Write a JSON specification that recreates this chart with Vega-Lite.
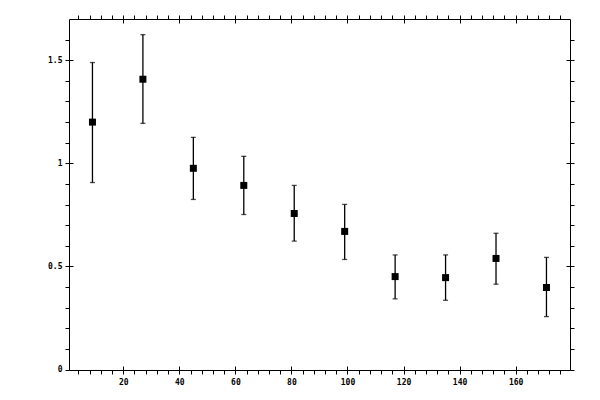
{
  "$schema": "https://vega.github.io/schema/vega-lite/v6.json",
  "description": "Points with error bars, framed axes with inner and outer ticks",
  "autosize": "none",
  "padding": {"left": 69, "top": 19, "right": 29, "bottom": 30},
  "width": 501,
  "height": 351,
  "background": "white",
  "data": {
    "values": [
      {"x": 9, "y": 1.2, "lo": 0.907, "hi": 1.489},
      {"x": 27, "y": 1.408, "lo": 1.194, "hi": 1.624},
      {"x": 45, "y": 0.976, "lo": 0.825, "hi": 1.126},
      {"x": 63, "y": 0.893, "lo": 0.752, "hi": 1.034},
      {"x": 81, "y": 0.757, "lo": 0.623, "hi": 0.893},
      {"x": 99, "y": 0.67, "lo": 0.534, "hi": 0.801},
      {"x": 117, "y": 0.451, "lo": 0.343, "hi": 0.556},
      {"x": 135, "y": 0.446, "lo": 0.336, "hi": 0.556},
      {"x": 153, "y": 0.539, "lo": 0.414, "hi": 0.661},
      {"x": 171, "y": 0.398, "lo": 0.257, "hi": 0.544}
    ]
  },
  "resolve": {"axis": {"x": "independent", "y": "independent"}},
  "layer": [
    {
      "mark": {"type": "rule", "color": "black", "strokeWidth": 1.3},
      "encoding": {
        "x": {
          "field": "x", "type": "quantitative",
          "scale": {"domain": [0.63, 179.4], "nice": false, "zero": false},
          "axis": {
            "orient": "bottom",
            "values": [4, 8, 12, 16, 20, 24, 28, 32, 36, 40, 44, 48, 52, 56, 60, 64, 68, 72, 76, 80, 84, 88, 92, 96, 100, 104, 108, 112, 116, 120, 124, 128, 132, 136, 140, 144, 148, 152, 156, 160, 164, 168, 172, 176],
            "tickSize": 4,
            "labelPadding": 4,
            "labelOverlap": false,
            "labelExpr": "datum.value % 20 === 0 ? datum.label : ''"
          }
        },
        "y": {
          "field": "lo", "type": "quantitative",
          "scale": {"domain": [-0.002, 1.7], "nice": false, "zero": false},
          "axis": {
            "orient": "left",
            "values": [0, 0.1, 0.2, 0.3, 0.4, 0.5, 0.6, 0.7, 0.8, 0.9, 1, 1.1, 1.2, 1.3, 1.4, 1.5, 1.6],
            "tickSize": 4,
            "labelPadding": 3,
            "labelOverlap": false,
            "labelExpr": "datum.value == 0 ? '0' : datum.value == 0.5 ? '0.5' : datum.value == 1 ? '1' : datum.value == 1.5 ? '1.5' : ''"
          }
        },
        "y2": {"field": "hi"}
      }
    },
    {
      "mark": {"type": "tick", "color": "black", "orient": "horizontal", "size": 5, "thickness": 1.3},
      "encoding": {
        "x": {
          "field": "x", "type": "quantitative",
          "axis": {"orient": "bottom", "values": [20, 40, 60, 80, 100, 120, 140, 160], "tickSize": -4, "labels": false, "domain": false}
        },
        "y": {
          "field": "lo", "type": "quantitative",
          "axis": {"orient": "left", "values": [0, 0.5, 1, 1.5], "tickSize": -4, "labels": false, "domain": false}
        }
      }
    },
    {
      "mark": {"type": "tick", "color": "black", "orient": "horizontal", "size": 5, "thickness": 1.3},
      "encoding": {
        "x": {
          "field": "x", "type": "quantitative",
          "axis": {
            "orient": "top",
            "values": [4, 8, 12, 16, 20, 24, 28, 32, 36, 40, 44, 48, 52, 56, 60, 64, 68, 72, 76, 80, 84, 88, 92, 96, 100, 104, 108, 112, 116, 120, 124, 128, 132, 136, 140, 144, 148, 152, 156, 160, 164, 168, 172, 176],
            "tickSize": 4, "labels": false
          }
        },
        "y": {
          "field": "hi", "type": "quantitative",
          "axis": {
            "orient": "right",
            "values": [0, 0.1, 0.2, 0.3, 0.4, 0.5, 0.6, 0.7, 0.8, 0.9, 1, 1.1, 1.2, 1.3, 1.4, 1.5, 1.6],
            "tickSize": 4, "labels": false
          }
        }
      }
    },
    {
      "mark": {"type": "point", "shape": "square", "filled": true, "color": "black", "size": 49, "opacity": 1, "strokeWidth": 0},
      "encoding": {
        "x": {
          "field": "x", "type": "quantitative",
          "axis": {"orient": "top", "values": [20, 40, 60, 80, 100, 120, 140, 160], "tickSize": -4, "labels": false, "domain": false}
        },
        "y": {
          "field": "y", "type": "quantitative",
          "axis": {"orient": "right", "values": [0, 0.5, 1, 1.5], "tickSize": -4, "labels": false, "domain": false}
        }
      }
    }
  ],
  "config": {
    "view": {"stroke": null},
    "axis": {
      "grid": false,
      "title": null,
      "domainColor": "black",
      "domainWidth": 1,
      "tickColor": "black",
      "tickWidth": 1,
      "labelColor": "black",
      "labelFont": "DejaVu Sans Mono",
      "labelFontSize": 8,
      "labelFontWeight": "bold"
    }
  }
}
